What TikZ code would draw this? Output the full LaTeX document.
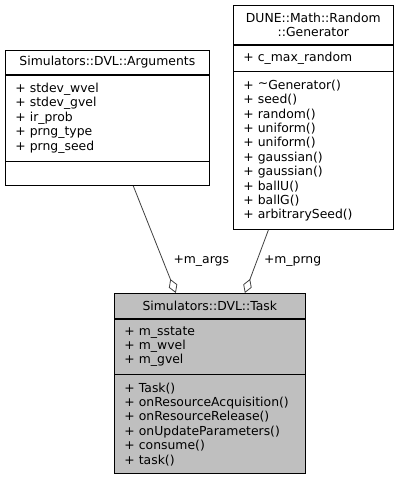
\documentclass[tikz,border=0pt]{standalone}
\usepackage{fontspec}
\setmainfont{DejaVu Sans}
\usetikzlibrary{arrows.meta, positioning}

\begin{document}
\begin{tikzpicture}[
    x=1pt, y=-1pt,
    umlfont/.style={font=\fontsize{12.4}{14.4}\selectfont},
    head/.style={rectangle, draw, line width=0.7pt, umlfont, anchor=north west, align=center, inner xsep=10pt, inner ysep=0pt},
    part/.style={rectangle, draw, line width=0.7pt, umlfont, anchor=north, align=left, inner xsep=10pt, inner ysep=0pt},
    aggr/.style={draw=black!75, line width=0.8pt, -{Diamond[open, length=15pt, width=9pt, line width=0.8pt]}},
    role/.style={umlfont, inner sep=0pt}
]
    \useasboundingbox (0,0) rectangle (400,477);

    % Classes
    \node[head, text width=184pt, minimum height=24pt] (argsT) at (5,50) {Simulators::DVL::Arguments};
    \node[part, text width=184pt, minimum height=86pt, below=0pt of argsT] (argsA)
        {+ stdev\_wvel\\+ stdev\_gvel\\+ ir\_prob\\+ prng\_type\\+ prng\_seed};
    \node[part, text width=184pt, minimum height=24pt, below=0pt of argsA] (argsM) {};

    \node[head, text width=140pt, minimum height=39pt] (genT) at (233,5) {DUNE::Math::Random\\::Generator};
    \node[part, text width=140pt, minimum height=26pt, below=0pt of genT] (genA) {+ c\_max\_random};
    \node[part, text width=140pt, minimum height=158pt, below=0pt of genA] (genM)
        {+ \raisebox{0.3ex}{\textasciitilde}Generator()\\+ seed()\\+ random()\\+ uniform()\\+ uniform()\\+ gaussian()\\+ gaussian()\\+ ballU()\\+ ballG()\\+ arbitrarySeed()};

    \node[head, fill=black!25, text width=171pt, minimum height=25pt] (taskT) at (114,293) {Simulators::DVL::Task};
    \node[part, fill=black!25, text width=171pt, minimum height=55pt, below=0pt of taskT] (taskA)
        {+ m\_sstate\\+ m\_wvel\\+ m\_gvel};
    \node[part, fill=black!25, text width=171pt, minimum height=99pt, below=0pt of taskA] (taskM)
        {+ Task()\\+ onResourceAcquisition()\\+ onResourceRelease()\\+ onUpdateParameters()\\+ consume()\\+ task()};

    % Edges
    \draw[aggr] ([xshift=26pt]argsM.south) -- node[role, pos=0.7, right=10pt] {+m\_args} ([xshift=-34pt]taskT.north);
    \draw[aggr] ([xshift=-45pt]genM.south) -- node[role, pos=0.5, right=7pt] {+m\_prng} ([xshift=35pt]taskT.north);
\end{tikzpicture}
\end{document}
